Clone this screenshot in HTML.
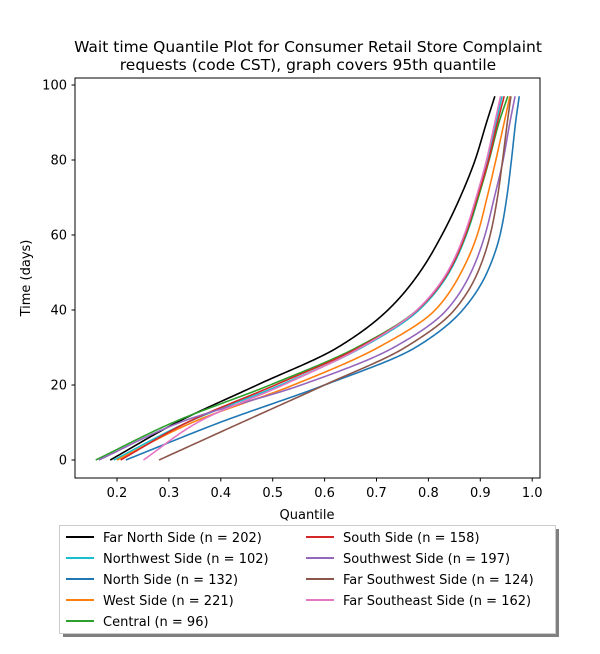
<!DOCTYPE html>
<html><head><meta charset="utf-8">
<style>
body{margin:0;background:#fff;font-family:"DejaVu Sans","Liberation Sans",sans-serif;}
svg text{font-family:"DejaVu Sans","Liberation Sans",sans-serif;}
</style></head>
<body>
<svg id="chart" width="600" height="650" xmlns="http://www.w3.org/2000/svg">
<text x="308" y="52" font-size="15.5" text-anchor="middle">Wait time Quantile Plot for Consumer Retail Store Complaint</text>
<text x="308" y="70" font-size="15.5" text-anchor="middle">requests (code CST), graph covers 95th quantile</text>
<g id="plot"></g>
<rect x="75" y="78" width="465" height="400" fill="none" stroke="#000" stroke-width="1"/>
<g id="xticks"></g>
<g id="yticks"></g>
<text x="307" y="519" font-size="13" text-anchor="middle">Quantile</text>
<text x="30" y="278" font-size="13" text-anchor="middle" transform="rotate(-90 30 278)">Time (days)</text>
<rect x="63" y="529" width="496" height="108" fill="#808080"/>
<rect x="59.5" y="525.5" width="496" height="108" fill="#fff" stroke="#ccc" stroke-width="1"/>
<g id="legend"></g>
</svg>
<script>
const times = [0,10,20,30,40,50,60,70,80,90,97];
const seriesNames = ["Far North Side (n = 202)","Northwest Side (n = 102)","North Side (n = 132)","West Side (n = 221)","Central (n = 96)","South Side (n = 158)","Southwest Side (n = 197)","Far Southwest Side (n = 124)","Far Southeast Side (n = 162)"];
const colors = ["#000000","#17becf","#1f77b4","#ff7f0e","#2ca02c","#d62728","#9467bd","#8c564b","#e377c2"];
const qFarNorth = [0.187,0.315,0.470,0.625,0.722,0.783,0.826,0.861,0.890,0.912,0.928];
const qNorthwest = [0.194,0.335,0.515,0.672,0.782,0.840,0.873,0.896,0.914,0.930,0.942];
const qNorth = [0.217,0.398,0.600,0.775,0.866,0.913,0.938,0.951,0.960,0.968,0.975];
const qWest = [0.200,0.345,0.540,0.703,0.813,0.863,0.894,0.913,0.930,0.946,0.957];
const qCentral = [0.159,0.308,0.495,0.662,0.778,0.838,0.872,0.896,0.917,0.936,0.953];
const qSouth = [0.207,0.335,0.505,0.666,0.779,0.838,0.871,0.894,0.916,0.933,0.946];
const qSouthwest = [0.165,0.321,0.555,0.733,0.835,0.882,0.909,0.927,0.944,0.957,0.967];
const qFarSouthwest = [0.281,0.440,0.600,0.755,0.850,0.895,0.919,0.933,0.943,0.952,0.959];
const qFarSoutheast = [0.251,0.355,0.520,0.670,0.778,0.836,0.869,0.892,0.912,0.928,0.939];
const series = [qFarNorth,qNorthwest,qNorth,qWest,qCentral,qSouth,qSouthwest,qFarSouthwest,qFarSoutheast];
const xTicks = [0.2,0.3,0.4,0.5,0.6,0.7,0.8,0.9,1.0];
const xTickLabels = ["0.2","0.3","0.4","0.5","0.6","0.7","0.8","0.9","1.0"];
const yTicks = [0,20,40,60,80,100];

const NS="http://www.w3.org/2000/svg";
function X(q){return 117+(q-0.2)*519;}
function Y(t){return 460-t*3.75;}
function mk(tag,attrs,parent){const e=document.createElementNS(NS,tag);for(const k in attrs)e.setAttribute(k,attrs[k]);parent.appendChild(e);return e;}

// monotone cubic (Fritsch-Carlson) of q as a function of t
function monotone(xs,ys){
  const n=xs.length,d=[],m=[];
  for(let i=0;i<n-1;i++)d.push((ys[i+1]-ys[i])/(xs[i+1]-xs[i]));
  m[0]=d[0];m[n-1]=d[n-2];
  for(let i=1;i<n-1;i++){
    if(d[i-1]*d[i]<=0)m[i]=0;
    else{const w1=2*(xs[i+1]-xs[i])+(xs[i]-xs[i-1]),w2=(xs[i+1]-xs[i])+2*(xs[i]-xs[i-1]);m[i]=(w1+w2)/(w1/d[i-1]+w2/d[i]);}
  }
  return function(x){
    let i=0;while(i<n-2&&x>xs[i+1])i++;
    const h=xs[i+1]-xs[i],t=(x-xs[i])/h,t2=t*t,t3=t2*t;
    return (2*t3-3*t2+1)*ys[i]+(t3-2*t2+t)*h*m[i]+(-2*t3+3*t2)*ys[i+1]+(t3-t2)*h*m[i+1];
  };
}

const plot=document.getElementById('plot');
series.forEach((s,i)=>{
  const f=monotone(times,s);
  const tMax=times[times.length-1];
  let d='';
  for(let k=0;k<=200;k++){
    const t=tMax*k/200;
    d+=(k?'L':'M')+X(f(t)).toFixed(2)+','+Y(t).toFixed(2);
  }
  const p=mk('path',{d:d,fill:'none',stroke:colors[i],'stroke-width':1.6,'stroke-linejoin':'round'},plot);
  
  
});

const xg=document.getElementById('xticks');
xTicks.forEach((v,i)=>{
  const l=mk('line',{x1:X(v),x2:X(v),y1:478,y2:481.5,stroke:'#000'},xg);
  
  
  const t=mk('text',{x:X(v),y:497,'font-size':13,'text-anchor':'middle'},xg);
  t.textContent=xTickLabels[i];
  
  
});
const yg=document.getElementById('yticks');
yTicks.forEach(v=>{
  const l=mk('line',{x1:71.5,x2:75,y1:Y(v),y2:Y(v),stroke:'#000'},yg);
  
  
  const t=mk('text',{x:67,y:Y(v)+4.5,'font-size':13,'text-anchor':'end'},yg);
  t.textContent=String(v);
  
  
});

const lg=document.getElementById('legend');
seriesNames.forEach((n,i)=>{
  const col=i<5?0:1, row=i<5?i:i-5;
  const x0=col?306:66, y0=537+row*21;
  const l=mk('line',{x1:x0,x2:x0+28,y1:y0,y2:y0,stroke:colors[i],'stroke-width':2},lg);
  
  
  const t=mk('text',{x:x0+37,y:y0+5,'font-size':13},lg);
  t.textContent=n;
  
  
});
</script>
</body></html>
